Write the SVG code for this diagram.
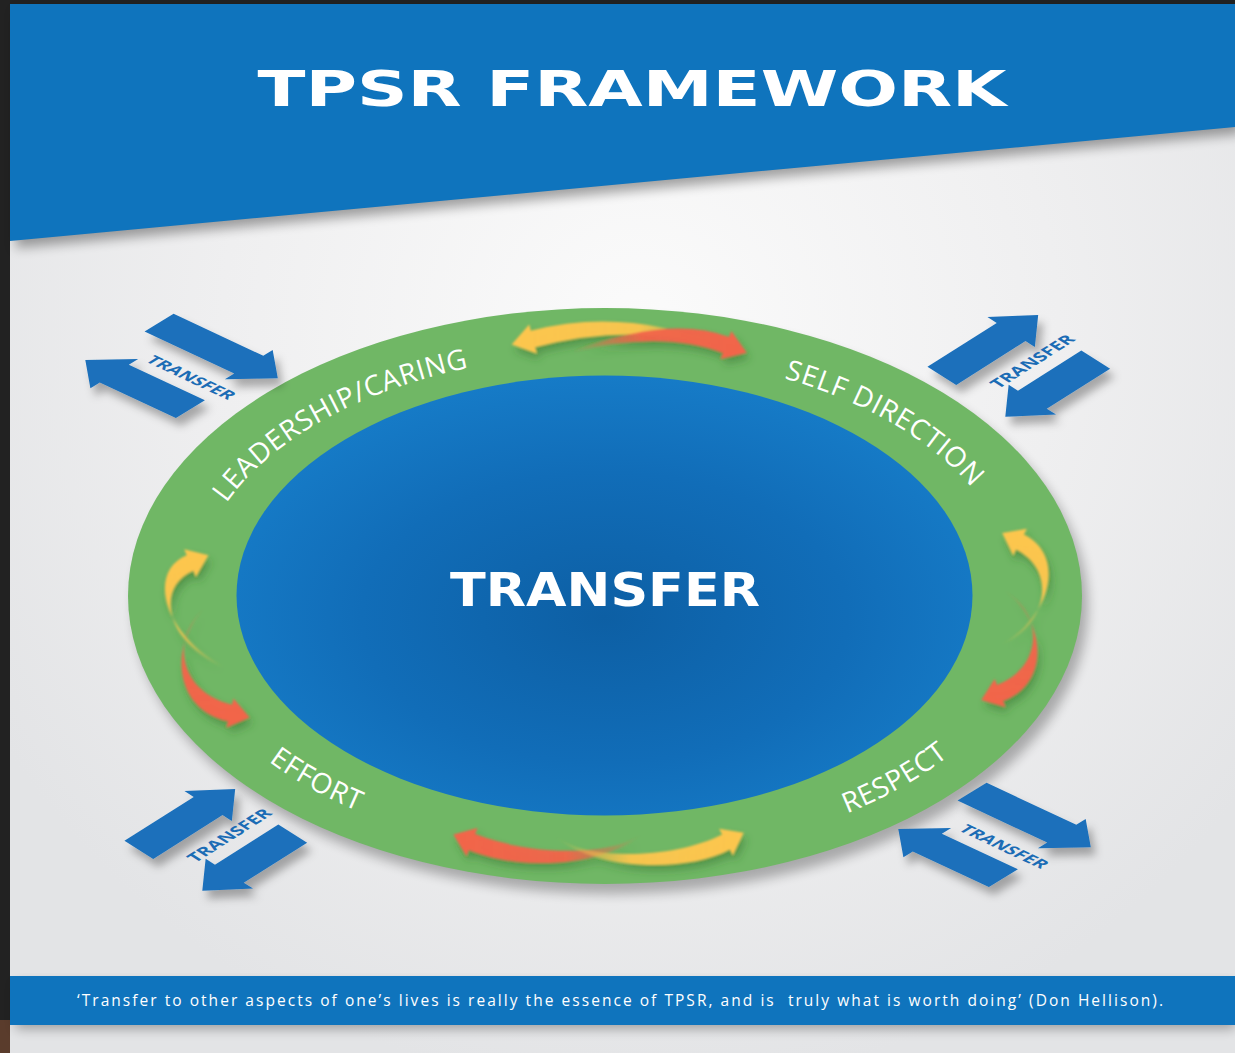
<svg xmlns="http://www.w3.org/2000/svg" xmlns:xlink="http://www.w3.org/1999/xlink" width="1235" height="1053" viewBox="0 0 1235 1053">
  <style>
    .title{font-family:"DejaVu Sans","Liberation Sans",sans-serif;font-weight:700;fill:#ffffff;}
    .ring-label{font-family:"Open Sans","Liberation Sans",sans-serif;font-size:28px;letter-spacing:0.6px;fill:#ffffff;}
    .xfer-label{font-family:"Open Sans","Liberation Sans",sans-serif;font-weight:700;font-size:16.5px;fill:#1b6cb5;}
    .xfer-arrow{fill:#1a6fbb;}
    .quote{font-family:"Open Sans","Liberation Sans",sans-serif;font-size:15.5px;fill:#ffffff;white-space:pre;}
  </style>
  <defs>
    <radialGradient id="pageBg" cx="640" cy="330" r="760" gradientUnits="userSpaceOnUse">
      <stop offset="0" stop-color="#fbfbfb"/>
      <stop offset="0.55" stop-color="#efeff0"/>
      <stop offset="1" stop-color="#e3e4e6"/>
    </radialGradient>
    <radialGradient id="blueCore" cx="0.5" cy="0.55" r="0.55">
      <stop offset="0" stop-color="#0d5fa4"/>
      <stop offset="0.6" stop-color="#116db8"/>
      <stop offset="1" stop-color="#167bc7"/>
    </radialGradient>
    <filter id="softShadow" x="-20%" y="-20%" width="140%" height="160%">
      <feGaussianBlur stdDeviation="6"/>
    </filter>
    <filter id="arrowShadow" x="-30%" y="-30%" width="160%" height="170%">
      <feGaussianBlur in="SourceAlpha" stdDeviation="4"/>
      <feOffset dx="5" dy="8" result="b"/>
      <feFlood flood-color="#000000" flood-opacity="0.3"/>
      <feComposite in2="b" operator="in"/>
      <feMerge><feMergeNode/><feMergeNode in="SourceGraphic"/></feMerge>
    </filter>
    <filter id="swoosh" x="-30%" y="-30%" width="160%" height="170%">
      <feGaussianBlur in="SourceAlpha" stdDeviation="4"/>
      <feOffset dx="3" dy="6" result="b"/>
      <feFlood flood-color="#2f6a2b" flood-opacity="0.45"/>
      <feComposite in2="b" operator="in" result="s"/>
      <feGaussianBlur in="SourceGraphic" stdDeviation="1.2" result="g"/>
      <feMerge><feMergeNode in="s"/><feMergeNode in="g"/></feMerge>
    </filter>
    <!-- fades for the curved ring arrows: transparent tail, solid head -->
    <linearGradient id="fTopY" gradientUnits="userSpaceOnUse" x1="724" y1="347" x2="512" y2="345"><stop offset="0" stop-color="#fdc64e" stop-opacity="0"/><stop offset="0.4" stop-color="#fdc64e" stop-opacity="0.95"/><stop offset="1" stop-color="#fdc64e"/></linearGradient>
    <linearGradient id="fTopR" gradientUnits="userSpaceOnUse" x1="572" y1="352" x2="747" y2="353"><stop offset="0" stop-color="#f2654a" stop-opacity="0"/><stop offset="0.4" stop-color="#f2654a" stop-opacity="0.95"/><stop offset="1" stop-color="#f2654a"/></linearGradient>
    <linearGradient id="fLeftY" gradientUnits="userSpaceOnUse" x1="226" y1="668" x2="195" y2="556"><stop offset="0" stop-color="#fdc64e" stop-opacity="0"/><stop offset="0.4" stop-color="#fdc64e" stop-opacity="0.95"/><stop offset="1" stop-color="#fdc64e"/></linearGradient>
    <linearGradient id="fLeftR" gradientUnits="userSpaceOnUse" x1="205" y1="608" x2="215" y2="717"><stop offset="0" stop-color="#f2654a" stop-opacity="0"/><stop offset="0.4" stop-color="#f2654a" stop-opacity="0.95"/><stop offset="1" stop-color="#f2654a"/></linearGradient>
    <linearGradient id="fRightY" gradientUnits="userSpaceOnUse" x1="1000" y1="645" x2="1015" y2="533"><stop offset="0" stop-color="#fdc64e" stop-opacity="0"/><stop offset="0.4" stop-color="#fdc64e" stop-opacity="0.95"/><stop offset="1" stop-color="#fdc64e"/></linearGradient>
    <linearGradient id="fRightR" gradientUnits="userSpaceOnUse" x1="1003" y1="590" x2="995" y2="700"><stop offset="0" stop-color="#f2654a" stop-opacity="0"/><stop offset="0.4" stop-color="#f2654a" stop-opacity="0.95"/><stop offset="1" stop-color="#f2654a"/></linearGradient>
    <linearGradient id="fBotR" gradientUnits="userSpaceOnUse" x1="642" y1="834" x2="453" y2="835"><stop offset="0" stop-color="#f2654a" stop-opacity="0"/><stop offset="0.4" stop-color="#f2654a" stop-opacity="0.95"/><stop offset="1" stop-color="#f2654a"/></linearGradient>
    <linearGradient id="fBotY" gradientUnits="userSpaceOnUse" x1="555" y1="836" x2="744" y2="833"><stop offset="0" stop-color="#fdc64e" stop-opacity="0"/><stop offset="0.4" stop-color="#fdc64e" stop-opacity="0.95"/><stop offset="1" stop-color="#fdc64e"/></linearGradient>
    <!-- baselines for the ring captions -->
    <path id="ringTop" d="M195,596 A410,242 0 0 1 1015,596"/>
    <path id="ringBottom" d="M171,596 A434,262 0 0 0 1039,596"/>
  </defs>

  <!-- frame and page -->
  <rect x="0" y="0" width="1235" height="1053" fill="#222222"/>
  <rect x="0" y="1020" width="10" height="33" fill="#5a3c2c"/>
  <rect x="10" y="4" width="1225" height="1049" fill="url(#pageBg)"/>

  <!-- header band -->
  <g id="header">
    <polygon points="10,4 1235,4 1235,127 10,241" fill="#000" opacity="0.35" transform="translate(6,7)" filter="url(#softShadow)"/>
    <polygon points="10,4 1235,4 1235,127 10,241" fill="#0f74bd"/>
    <text class="title" x="632" y="106" font-size="49" text-anchor="middle" textLength="749" lengthAdjust="spacingAndGlyphs">TPSR FRAMEWORK</text>
  </g>

  <!-- central ring -->
  <g id="ring">
    <ellipse cx="611" cy="606" rx="477" ry="288" fill="#000" opacity="0.28" filter="url(#softShadow)"/>
    <ellipse cx="605" cy="596" rx="477" ry="288" fill="#70b765"/>
    <ellipse cx="604.5" cy="595.5" rx="368" ry="220" fill="url(#blueCore)"/>
  </g>

  <g id="core">
    <text class="title" x="605" y="606" font-size="47" text-anchor="middle" textLength="310" lengthAdjust="spacingAndGlyphs">TRANSFER</text>
  </g>

  <g id="label-leadership"><text class="ring-label"><textPath xlink:href="#ringTop" href="#ringTop" startOffset="23.2%" text-anchor="middle">LEADERSHIP/CARING</textPath></text></g>
  <g id="label-self-direction"><text class="ring-label"><textPath xlink:href="#ringTop" href="#ringTop" startOffset="78%" text-anchor="middle">SELF DIRECTION</textPath></text></g>
  <g id="label-effort"><text class="ring-label"><textPath xlink:href="#ringBottom" href="#ringBottom" startOffset="22.6%" text-anchor="middle">EFFORT</textPath></text></g>
  <g id="label-respect"><text class="ring-label"><textPath xlink:href="#ringBottom" href="#ringBottom" startOffset="77.6%" text-anchor="middle">RESPECT</textPath></text></g>

  <!-- connectors: curved swooshes in the ring and TRANSFER block arrows -->
  <g id="connectors">
    <g filter="url(#swoosh)">
      <path fill="url(#fTopY)" d="M724,347 Q626,306.3 530.8,330.8 L529.2,324.5 L511.7,344.6 L536.8,353.5 L535.2,347.2 Q630,321.7 724,347 Z"/>
      <path fill="url(#fTopR)" d="M572,352 Q667.8,314.5 729,337 L731.3,331 L746.6,352.8 L720.7,359 L723,353 Q662.2,329.5 572,352 Z"/>
      <path fill="url(#fLeftY)" d="M226,668 C163.4,636.3 146.5,571.7 186.7,555.2 L184.2,549.2 L208.4,555.2 L195.9,576.8 L193.3,570.8 C153.5,588.3 166.6,643.7 226,668 Z"/>
      <path fill="url(#fLeftR)" d="M205,608 C170.9,636.1 177.1,691.2 232,704.7 L233.5,698.4 L249.5,717.6 L226.6,727.6 L228,721.3 C172.9,708.8 169.1,643.9 205,608 Z"/>
      <path fill="url(#fRightY)" d="M1000,645 C1043.2,628.6 1060.9,573 1016.1,549.6 L1013.2,555.4 L1002.2,532.9 L1026.8,528.7 L1023.9,534.4 C1069.1,557 1046.8,621.4 1000,645 Z"/>
      <path fill="url(#fRightR)" d="M1003,590 C1046.4,618.7 1051.2,683.4 1003,701 L1005.3,707 L981.3,700 L994.7,679 L997,685 C1044.8,666.6 1043.6,611.3 1003,590 Z"/>
      <path fill="url(#fBotR)" d="M642,834 C608.5,863.7 526.7,873.4 468.9,849.9 L466.5,856 L453.4,834.6 L477.5,828 L475.1,834.1 C533.3,856.6 611.5,856.3 642,834 Z"/>
      <path fill="url(#fBotY)" d="M555,836 C588.2,862.5 675.8,858 722.1,834.5 L719.1,828.7 L743.7,832.8 L732.9,855.3 L729.9,849.5 C684.2,874 591.8,869.5 555,836 Z"/>
    </g>

    <!-- top-left pair -->
    <g id="transfer-top-left">
      <g filter="url(#arrowShadow)">
        <g transform="matrix(0.906,0.424,-0.853,0.522,187,380)">
          <polygon class="xfer-arrow" points="-76,-65 23,-65 23,-76 55,-48 23,-20 23,-31 -76,-31"/>
          <polygon class="xfer-arrow" points="32,13 -52,13 -52,2 -84,30 -52,58 -52,47 32,47"/>
        </g>
      </g>
      <text class="xfer-label" transform="matrix(0.906,0.424,-0.853,0.522,187,380)" x="0" y="1" text-anchor="middle" textLength="92" lengthAdjust="spacingAndGlyphs">TRANSFER</text>
    </g>

    <!-- top-right pair -->
    <g id="transfer-top-right">
      <g filter="url(#arrowShadow)">
        <g transform="matrix(0.845,-0.535,0.846,0.532,1034,364.5)">
          <polygon class="xfer-arrow" points="-65,-61 17,-61 17,-72 49,-44 17,-16 17,-27 -65,-27"/>
          <polygon class="xfer-arrow" points="41,15 -34,15 -34,4 -66,32 -34,60 -34,49 41,49"/>
        </g>
      </g>
      <text class="xfer-label" transform="matrix(0.845,-0.535,0.846,0.532,1034,364.5)" x="2" y="2" text-anchor="middle" textLength="92" lengthAdjust="spacingAndGlyphs">TRANSFER</text>
    </g>

    <!-- bottom-left pair -->
    <g id="transfer-bottom-left">
      <g filter="url(#arrowShadow)">
        <g transform="matrix(0.845,-0.535,0.846,0.532,231,838.5)">
          <polygon class="xfer-arrow" points="-65,-61 17,-61 17,-72 49,-44 17,-16 17,-27 -65,-27"/>
          <polygon class="xfer-arrow" points="41,15 -34,15 -34,4 -66,32 -34,60 -34,49 41,49"/>
        </g>
      </g>
      <text class="xfer-label" transform="matrix(0.845,-0.535,0.846,0.532,231,838.5)" x="2" y="2" text-anchor="middle" textLength="92" lengthAdjust="spacingAndGlyphs">TRANSFER</text>
    </g>

    <!-- bottom-right pair -->
    <g id="transfer-bottom-right">
      <g filter="url(#arrowShadow)">
        <g transform="matrix(0.906,0.424,-0.853,0.522,1000,849)">
          <polygon class="xfer-arrow" points="-76,-65 23,-65 23,-76 55,-48 23,-20 23,-31 -76,-31"/>
          <polygon class="xfer-arrow" points="32,13 -52,13 -52,2 -84,30 -52,58 -52,47 32,47"/>
        </g>
      </g>
      <text class="xfer-label" transform="matrix(0.906,0.424,-0.853,0.522,1000,849)" x="0" y="1" text-anchor="middle" textLength="92" lengthAdjust="spacingAndGlyphs">TRANSFER</text>
    </g>
  </g>

  <!-- quotation band -->
  <g id="quote-band">
    <rect x="16" y="983" width="1219" height="46" fill="#000" opacity="0.3" filter="url(#softShadow)"/>
    <rect x="10" y="976" width="1225" height="49" fill="#0f74bd"/>
    <text class="quote" x="620" y="1006" text-anchor="middle" textLength="1086" lengthAdjust="spacing">‘Transfer to other aspects of one’s lives is really the essence of TPSR, and is  truly what is worth doing’ (Don Hellison).</text>
  </g>
</svg>
